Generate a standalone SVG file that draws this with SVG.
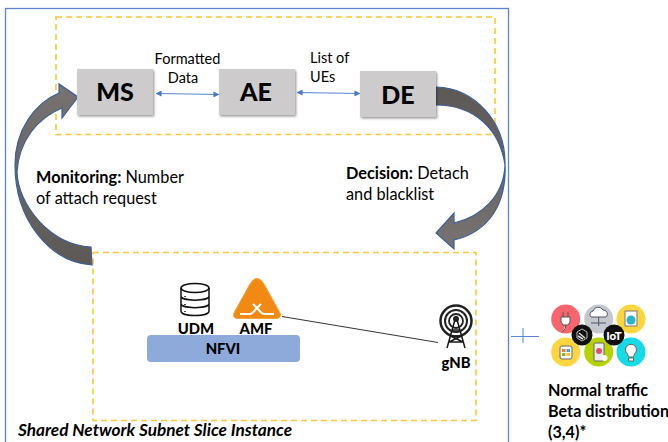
<svg xmlns="http://www.w3.org/2000/svg" width="668" height="442" viewBox="0 0 668 442">
<style>
text{font-family:Lato,"Open Sans",sans-serif;fill:#000}
.b{font-weight:700}
.lbl{font-size:14.5px}
.desc{font-size:16.300px}
.box{fill:#cdcbcb;filter:url(#sh)}
.name{font-size:25px;font-weight:900;text-anchor:middle}
.dash{fill:none;stroke:#fdc735;stroke-width:1.6;stroke-dasharray:6 4}
.big{stroke:#3a5f9c;stroke-width:1.2}
.link{stroke:#5b84d0;stroke-width:1;fill:none;marker-start:url(#ah);marker-end:url(#ah)}
.node{font-size:14.8px;font-weight:900;text-anchor:middle}
.ic{fill:none;stroke:#111;stroke-width:1.5}
</style>
<defs>
<filter id="sh" x="-10%" y="-10%" width="125%" height="125%"><feDropShadow dx="1.2" dy="1.5" stdDeviation="1" flood-color="#000" flood-opacity=".4"/></filter>
<linearGradient id="gl" x1="0" y1="0" x2="0" y2="1"><stop offset="0" stop-color="#787371"/><stop offset="1" stop-color="#5c5856"/></linearGradient>
<linearGradient id="gr" x1="0" y1="0" x2="0" y2="1"><stop offset="0" stop-color="#5c5856"/><stop offset="1" stop-color="#787371"/></linearGradient>
<marker id="ah" viewBox="0 0 8 8" refX="7.5" refY="4" markerWidth="6" markerHeight="6" orient="auto-start-reverse" markerUnits="userSpaceOnUse"><path d="M0 0L8 4L0 8z" fill="#4a78cc"/></marker>
</defs>
<rect width="668" height="442" fill="#fff"/>
<rect id="slice-instance" x="5.5" y="8.5" width="503" height="445" fill="none" stroke="#5a84d2" stroke-width="1.3"/>
<rect id="top-zone" class="dash" x="56" y="17" width="439" height="117.500"/>
<rect id="bottom-zone" class="dash" x="93" y="252.500" width="383" height="168"/>
<g id="connectors">
<path class="link" d="M156 93.500L219 94.500"/>
<path class="link" d="M297 92.500L360 93.500"/>
<path d="M282 316.500L438 342.500" stroke="#333" stroke-width="1" fill="none"/>
<path class="big" fill="url(#gl)" d="M92 265C48 262 15 218 15 165C15 130 35 103 59 93L59 84L78 97L62 118L62 108C38 118 19 140 17 172C18 205 50 245 91 247Z"/>
<path class="big" fill="url(#gr)" d="M436 87C475 88 505 122 505 163C507 205 488 232 454 240L454 249L436 233L454 213L454 223C483 216 504 195 505 165C500 130 475 105 436 105Z"/>
<path d="M511 336.500H539M523 328V343" stroke="#5a84d2" stroke-width="1" fill="none"/>
</g>
<g id="ms"><rect class="box" x="77" y="69" width="76" height="46"/><text class="name" x="115" y="101">MS</text></g>
<g id="ae"><rect class="box" x="219" y="69" width="76" height="46"/><text class="name" x="256" y="101">AE</text></g>
<g id="de"><rect class="box" x="360" y="71" width="76" height="46"/><text class="name" x="398" y="104">DE</text></g>
<g id="labels">
<text class="lbl" x="187.500" y="64" text-anchor="middle">Formatted</text>
<text class="lbl" x="183" y="83" text-anchor="middle">Data</text>
<text class="lbl" x="310" y="63">List of</text>
<text class="lbl" x="310" y="82">UEs</text>
<text class="desc" x="36" y="183"><tspan class="b">Monitoring:</tspan> Number</text>
<text class="desc" x="36" y="204">of attach request</text>
<text class="desc" x="346" y="179"><tspan class="b">Decision:</tspan> Detach</text>
<text class="desc" x="346" y="200">and blacklist</text>
<text x="18" y="436" font-size="17.200" font-weight="700" font-style="italic">Shared Network Subnet Slice Instance</text>
</g>
<g id="udm">
<ellipse class="ic" cx="195" cy="288" rx="14" ry="4.500"/>
<path class="ic" d="M181 288V311C181 317 209 317 209 311V288M181 296C181 301.500 209 301.500 209 296M181 303.500C181 309 209 309 209 303.500"/>
<path d="M185 296v1M185 304v1M185 311v1" stroke="#111" stroke-width="1.500"/>
<text class="node" x="196" y="334">UDM</text>
</g>
<g id="amf">
<path d="M257 278.500C254 278.500 252 281 250 284L235 311C232 316 234 318.500 238 318.500H276C280 318.500 282 316 279 311L264 284C262 281 260 278.500 257 278.500Z" fill="#f08a12" stroke="#f5a33c" stroke-width="1"/>
<path d="M240 314H250C253 314 254 311 256 309L261 304M253 304L258 309C260 311 261 314 264 314H274" fill="none" stroke="#fff" stroke-width="2"/>
<text class="node" x="256" y="334">AMF</text>
</g>
<g id="nfvi">
<rect x="147" y="335" width="153" height="27" rx="4" fill="#8eaadb"/>
<text class="node" x="223" y="354">NFVI</text>
</g>
<g id="gnb">
<circle cx="456" cy="321" r="15.500" fill="none" stroke="#222" stroke-width="2.500"/>
<circle cx="456" cy="321" r="11" fill="none" stroke="#222" stroke-width="2"/>
<circle cx="456" cy="321" r="7" fill="none" stroke="#222" stroke-width="1.800"/>
<path d="M456 316L447 348M456 316L465 348M450.500 336H461.500M449 342L463 342M452 330H460M449 342L461.500 336M463 342L450.500 336" fill="none" stroke="#1a1a1a" stroke-width="1.500"/>
<circle cx="456" cy="319" r="3" fill="#222"/>
<text class="node" x="456" y="368">gNB</text>
</g>
<g id="iot-icons">
<circle cx="565.700" cy="319" r="14.500" fill="#f9656c"/>
<circle cx="598.700" cy="319" r="14.500" fill="#c3c8cf"/>
<circle cx="631" cy="319" r="14.500" fill="#fdd63f"/>
<circle cx="565.700" cy="352" r="14.500" fill="#fdd63f"/>
<circle cx="598.700" cy="352" r="14.500" fill="#b5d300"/>
<circle cx="631" cy="352" r="14.500" fill="#14dbe6"/>
<path d="M561 317h9v5l-2 3h-5l-2-3zM563 317v-5M568 317v-5M565.500 325v3l-3 4" fill="#fff" stroke="#555" stroke-width="1"/>
<path d="M591 317a3.500 3.500 0 0 1 2-6a5.500 5.500 0 0 1 10-1a4 4 0 0 1 3 7zM598.700 317v9M591 323h15" fill="#fff" stroke="#556" stroke-width="1"/>
<rect x="625" y="311" width="12" height="15" fill="#fff" stroke="#777"/><circle cx="631" cy="320" r="4.500" fill="#28b4c8"/>
<rect x="560" y="346" width="12" height="13" rx="2" fill="#fff" stroke="#666"/><path d="M562 349h3.500v3h-3.500z" fill="#e74"/><path d="M566.500 349h3.500v3h-3.500z" fill="#4ab"/><path d="M562 353h3.500v3h-3.500z" fill="#8b3"/><path d="M566.500 353h3.500v3h-3.500z" fill="#fb3"/>
<rect x="594" y="343" width="10" height="18" rx="1" fill="#eee" stroke="#666"/><circle cx="599" cy="351" r="3" fill="#e2506a"/><circle cx="604.500" cy="358" r="3" fill="#fff"/>
<path d="M627.500 354a5.500 5.500 0 1 1 7 0l-1 3h-5zM628.500 358h5v3h-5z" fill="#fff" stroke="#666" stroke-width="1"/>
<circle cx="582" cy="335" r="10.500" fill="#111"/>
<path d="M582 329l5 3v6l-5 3l-5-3v-6z" fill="none" stroke="#bbb" stroke-width="1"/>
<path d="M579 333l6 5M578 336l5 3" stroke="#ddd" stroke-width="1.500"/>
<circle cx="614" cy="335" r="10.500" fill="#111"/>
<text x="614" y="339.500" font-size="11.500" font-weight="900" text-anchor="middle" style="fill:#fff">IoT</text>
</g>
<g id="traffic" class="b" font-size="16.200">
<text x="548" y="396">Normal traffic</text>
<text x="548" y="417">Beta distribution</text>
<text x="548" y="438">(3,4)*</text>
</g>
</svg>
